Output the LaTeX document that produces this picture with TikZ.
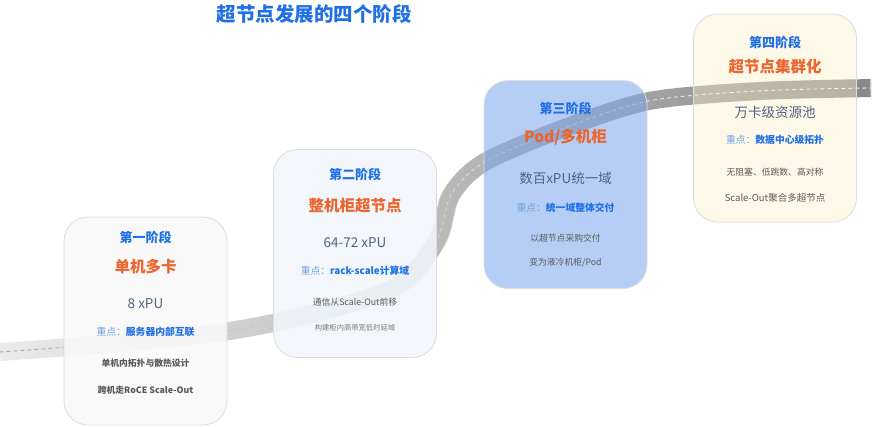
\documentclass[tikz,border=0pt]{standalone}
\usepackage{fontspec}
\setmainfont{Noto Sans CJK SC}
\usepackage{tikz}
\usetikzlibrary{fadings}
\usepackage{xcolor}

\definecolor{stageblue}{HTML}{1F6FE8}
\definecolor{headorange}{HTML}{EC6530}
\definecolor{scaleslate}{HTML}{4E6384}
\definecolor{focuslight}{HTML}{6DA2E2}
\definecolor{notegray}{HTML}{5A5A5A}
\definecolor{cardline}{HTML}{DCDCDC}
\definecolor{roadlight}{HTML}{ECECEC}
\definecolor{roaddark}{HTML}{888888}
\definecolor{dashgray}{HTML}{A8A8A8}
\definecolor{cardone}{HTML}{F8F8F8}
\definecolor{cardtwo}{HTML}{F1F6FB}
\definecolor{cardthree}{HTML}{7AA5EC}
\definecolor{cardfour}{HTML}{FAEDC4}

\tikzfading[name=roadfade, left color=transparent!100, right color=transparent!0]
\tikzfading[name=dashfade, left color=transparent!0, right color=transparent!100]

\begin{document}
\begin{tikzpicture}[x=1pt, y=-1pt,
    card/.style={rounded corners=24pt, draw=cardline, line width=0.8pt, minimum width=163pt, minimum height=208pt, inner sep=0pt},
    stage/.style={font=\fontsize{13}{15}\selectfont\bfseries, text=stageblue, inner sep=0pt},
    headline/.style={font=\fontsize{15.5}{18}\selectfont\bfseries, text=headorange, inner sep=0pt},
    xpuline/.style={font=\fontsize{13.5}{16}\selectfont, text=scaleslate, inner sep=0pt},
    focus/.style={font=\fontsize{9.8}{12}\selectfont, text=stageblue, inner sep=0pt},
    note/.style={font=\fontsize{8.8}{11}\selectfont, text=notegray, inner sep=0pt}]

    \useasboundingbox (0,0) rectangle (872,426);

    % Draw the road behind the cards
    \def\roadpts{(0,352) (120,343) (230,331) (320,312) (400,285) (438,240) (452,195) (484,163) (560,130) (650,101) (760,91) (872,88)}
    \draw[line width=18pt, roadlight] plot[smooth] coordinates {\roadpts};
    \draw[line width=18pt, roaddark, path fading=roadfade] plot[smooth] coordinates {\roadpts};
    \draw[line width=0.9pt, dashgray, dash pattern=on 4pt off 3pt, path fading=dashfade] plot[smooth] coordinates {\roadpts};
    \draw[line width=0.9pt, white, dash pattern=on 4pt off 3pt, path fading=roadfade] plot[smooth] coordinates {\roadpts};

    % Title
    \node[font=\fontsize{19.5}{22}\selectfont\bfseries, text=stageblue, inner sep=0pt] (Title) at (314,14) {超节点发展的四个阶段};

    % The four cards
    \node[card, fill=cardone, fill opacity=0.9] (Card1) at (145.5,321) {};
    \node[card, fill=cardtwo, fill opacity=0.88] (Card2) at (355,253.5) {};
    \node[card, fill=cardthree, fill opacity=0.55] (Card3) at (565.5,184.5) {};
    \node[card, fill=cardfour, fill opacity=0.4] (Card4) at (775,118) {};

    % Stage 1
    \node[stage] (S1) at (145.5,237) {第一阶段};
    \node[headline] (H1) at (145.5,267) {单机多卡};
    \node[xpuline] (X1) at (145.5,304) {8 xPU};
    \node[focus] (F1) at (145.5,332) {{\color{focuslight}重点：}\textbf{服务器内部互联}};
    \node[note, font=\fontsize{8.8}{11}\selectfont\bfseries] (N1a) at (145.5,363) {单机内拓扑与散热设计};
    \node[note, font=\fontsize{8.8}{11}\selectfont\bfseries] (N1b) at (145.5,390) {跨机走RoCE Scale-Out};

    % Stage 2
    \node[stage] (S2) at (355,174) {第二阶段};
    \node[headline] (H2) at (355,206) {整机柜超节点};
    \node[xpuline] (X2) at (355,243) {64-72 xPU};
    \node[focus] (F2) at (355,271) {{\color{focuslight}重点：}\textbf{rack-scale计算域}};
    \node[note] (N2a) at (355,302) {通信从Scale-Out前移};
    \node[note, font=\fontsize{7.3}{9}\selectfont, text=notegray!80] (N2b) at (355,328) {构建柜内高带宽低时延域};

    % Stage 3
    \node[stage] (S3) at (565.5,108) {第三阶段};
    \node[headline] (H3) at (565.5,137) {Pod/多机柜};
    \node[xpuline] (X3) at (565.5,178) {数百xPU统一域};
    \node[focus] (F3) at (565.5,208) {{\color{focuslight}重点：}\textbf{统一域整体交付}};
    \node[note] (N3a) at (565.5,238) {以超节点采购交付};
    \node[note] (N3b) at (565.5,263) {变为液冷机柜/Pod};

    % Stage 4
    \node[stage] (S4) at (775,42) {第四阶段};
    \node[headline] (H4) at (775,67) {超节点集群化};
    \node[xpuline] (X4) at (775,112) {万卡级资源池};
    \node[focus] (F4) at (775,140) {{\color{focuslight}重点：}\textbf{数据中心级拓扑}};
    \node[note] (N4a) at (775,172) {无阻塞、低跳数、高对称};
    \node[note, font=\fontsize{9.5}{11}\selectfont] (N4b) at (775,198) {Scale-Out聚合多超节点};

\end{tikzpicture}
\end{document}
